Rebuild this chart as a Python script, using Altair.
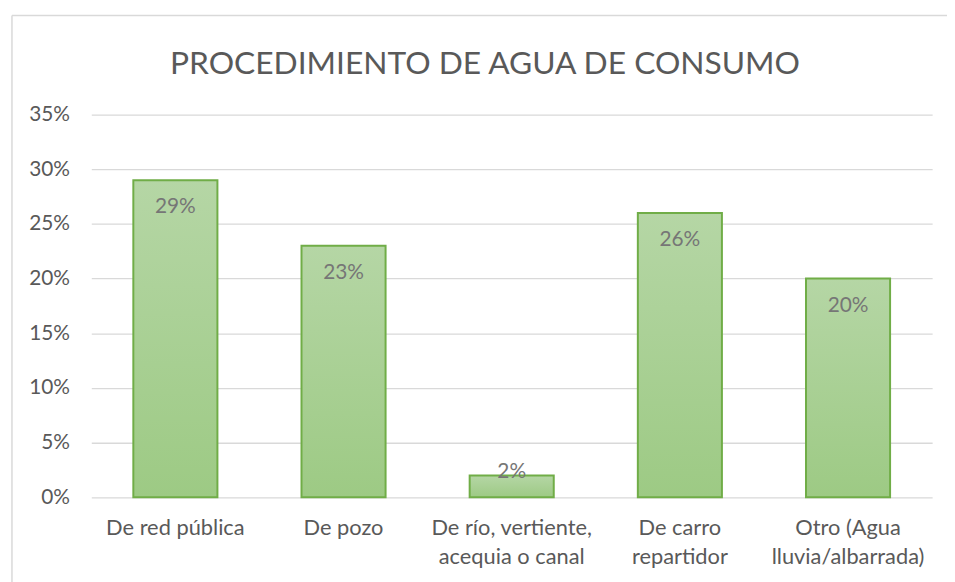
import altair as alt
import pandas as pd

categories = ["De red pública", "De pozo", "De río, vertiente,\nacequia o canal",
              "De carro\nrepartidor", "Otro (Agua\nlluvia/albarrada)"]
values = [0.29, 0.23, 0.02, 0.26, 0.20]
y_ticks = [0, 0.05, 0.10, 0.15, 0.20, 0.25, 0.30, 0.35]
title_text = ["PROCEDIMIENTO DE AGUA DE CONSUMO"]

df = pd.DataFrame({"cat": categories, "val": values})
tdf = pd.DataFrame({"t": title_text})

W, H = 848, 386
FONT = "Lato"
AX = "#595959"

xenc = alt.X("cat:N", sort=categories,
             scale=alt.Scale(paddingInner=0.5, paddingOuter=0.25),
             axis=alt.Axis(title=None, labelAngle=0, labelExpr="split(datum.label, '\\n')",
                           domain=False, ticks=False, labelFont=FONT, labelFontSize=22,
                           labelColor=AX, labelPadding=21, labelLineHeight=29))
yenc = alt.Y("val:Q", scale=alt.Scale(domain=[0, 0.35], nice=False),
             axis=alt.Axis(title=None, values=y_ticks, format=".0%", domain=False, ticks=False,
                           labelFont=FONT, labelFontSize=21, labelColor=AX, labelPadding=22,
                           gridColor="#d9d9d9", gridWidth=1.3))

base = alt.Chart(df)

bars = base.mark_bar(
    color=alt.Gradient(gradient="linear",
                       stops=[alt.GradientStop(color="#b5d6a5", offset=0),
                              alt.GradientStop(color="#9dca84", offset=1)],
                       x1=0, x2=0, y1=0, y2=1),
    stroke="#70ad47", strokeWidth=2,
).encode(x=xenc, y=yenc)

labels = base.transform_calculate(
    ly="datum.val >= 0.05 ? datum.val - 0.0250 : datum.val + 0.0035"
).mark_text(font=FONT, fontSize=21, color="#767676", baseline="middle").encode(
    x=alt.X("cat:N", sort=categories),
    y=alt.Y("ly:Q"),
    text=alt.Text("val:Q", format=".0%"),
)

title = alt.Chart(tdf).mark_text(font=FONT, fontSize=32, color=AX, baseline="alphabetic",
                                 align="center").encode(
    x=alt.value(W / 2 - 27), y=alt.value(-41), text="t:N")

border_left = alt.Chart(tdf).mark_rule(color="#d9d9d9", strokeWidth=1.5).encode(
    x=alt.value(-80), y=alt.value(-100), y2=alt.value(H + 100))
border_top = alt.Chart(tdf).mark_rule(color="#d9d9d9", strokeWidth=1.5).encode(
    x=alt.value(-80), x2=alt.value(W + 100), y=alt.value(-100))

chart = alt.layer(border_left, border_top, bars, labels, title).properties(
    width=W, height=H,
    padding={"left": 84, "top": 105, "right": 15, "bottom": 83},
    autosize=alt.AutoSizeParams(type="none"),
).configure_view(stroke=None)

chart.save("out.html", embed_options={"renderer": "svg", "actions": False})
